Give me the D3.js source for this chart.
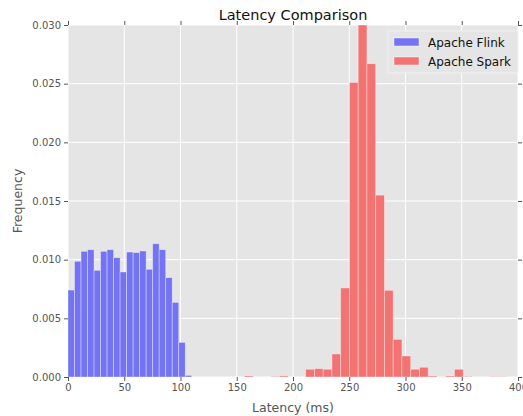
<!DOCTYPE html>
<html>
<head>
<meta charset="utf-8">
<script src="https://cdn.jsdelivr.net/npm/d3@7"></script>
<style>
  body { margin: 0; background: #fff; }
  text { font-family: "DejaVu Sans", sans-serif; }
</style>
</head>
<body>
<svg id="chart"></svg>
<script>
// Histogram data (frequency per bin)
const flinkStart = 0;
const flinkBinWidth = 110 / 19;
const flinkValues = [0.00741, 0.00986, 0.01071, 0.01085, 0.00909, 0.01071, 0.01085, 0.01017,
  0.00895, 0.01065, 0.01060, 0.01074, 0.00918, 0.01136, 0.01085, 0.00847, 0.00636, 0.00295, 0.00014];

const sparkStart = 156.8;
const sparkBinWidth = 7.78;
const sparkValues = [0.0001, 0, 0, 0.00005, 0.0001, 0, 0, 0.00066, 0.00071, 0.00066,
  0.00196, 0.00759, 0.0251, 0.0300, 0.0267, 0.0155, 0.00739, 0.00321, 0.00179, 0.00066,
  0.00083, 0.00009, 0, 0.00009, 0.00066, 0.00005, 0, 0, 0.00003, 0.00003];

const xTicks = [0, 50, 100, 150, 200, 250, 300, 350, 400];
const yTicks = [0, 0.005, 0.010, 0.015, 0.020, 0.025, 0.030];
const seriesNames = ["Apache Flink", "Apache Spark"];
const colors = ["#7373f3", "#f37373"];

const svgWidth = 523;
const svgHeight = 416;
const margin = { top: 25, right: 5, bottom: 39, left: 68 };
const width = svgWidth - margin.left - margin.right;
const height = svgHeight - margin.top - margin.bottom;

const svg = d3.select("#chart").attr("width", svgWidth).attr("height", svgHeight);
const g = svg.append("g").attr("transform", `translate(${margin.left},${margin.top})`);

const xScale = d3.scaleLinear().domain([0, 400]).range([0, width]);
const yScale = d3.scaleLinear().domain([0, 0.030]).range([height, 0]);

// background + grid
g.append("rect").attr("width", width).attr("height", height).attr("fill", "#e5e5e5");
g.selectAll(".vgrid").data(xTicks).enter().append("line")
  .attr("x1", d => xScale(d)).attr("x2", d => xScale(d))
  .attr("y1", 0).attr("y2", height)
  .attr("stroke", "#fff").attr("stroke-width", 1);
g.selectAll(".hgrid").data(yTicks).enter().append("line")
  .attr("x1", 0).attr("x2", width)
  .attr("y1", d => yScale(d)).attr("y2", d => yScale(d))
  .attr("stroke", "#fff").attr("stroke-width", 1);

g.append("defs").append("clipPath").attr("id", "clip")
  .append("rect").attr("width", width).attr("height", height);

const bars = g.append("g").attr("clip-path", "url(#clip)");

const drawHist = (values, start, binWidth, fill, cls) => {
  bars.selectAll("." + cls).data(values).enter()
    .append("rect")
    .attr("class", cls)
    .attr("x", (d, i) => xScale(start + i * binWidth))
    .attr("width", (d, i) => xScale(start + (i + 1) * binWidth) - xScale(start + i * binWidth))
    .attr("y", d => yScale(d))
    .attr("height", d => height - yScale(d))
    .attr("fill", fill)
    .attr("stroke", "rgba(255,255,255,0.45)")
    .attr("stroke-width", 0.8);
};
drawHist(flinkValues, flinkStart, flinkBinWidth, colors[0], "flink");
drawHist(sparkValues, sparkStart, sparkBinWidth, colors[1], "spark");

// axes
const tickColor = "#555";
const xAxis = g.append("g").attr("transform", `translate(0,${height})`)
  .call(d3.axisBottom(xScale).tickValues(xTicks).tickSize(4).tickPadding(3).tickFormat(d3.format("d")));
const xTop = g.append("g").call(d3.axisTop(xScale).tickValues(xTicks).tickSize(4).tickFormat(""));
const yAxis = g.append("g")
  .call(d3.axisLeft(yScale).tickValues(yTicks).tickSize(4).tickPadding(3).tickFormat(d3.format(".3f")));
const yRight = g.append("g").attr("transform", `translate(${width},0)`)
  .call(d3.axisRight(yScale).tickValues(yTicks).tickSize(4).tickFormat(""));
[xAxis, xTop, yAxis, yRight].forEach(a => {
  a.select(".domain").remove();
  a.selectAll(".tick line").attr("stroke", tickColor);
  a.selectAll("text").attr("fill", tickColor).style("font-size", "10px")
    .style("font-family", "'DejaVu Sans', sans-serif");
});

// title and labels
svg.append("text").attr("x", margin.left + width / 2).attr("y", 20)
  .attr("text-anchor", "middle").attr("fill", "#111").style("font-size", "14.5px")
  .text("Latency Comparison");
svg.append("text").attr("x", margin.left + width / 2).attr("y", 412)
  .attr("text-anchor", "middle").attr("fill", tickColor).style("font-size", "12.5px")
  .text("Latency (ms)");
svg.append("text").attr("transform", `translate(22,${margin.top + height / 2}) rotate(-90)`)
  .attr("text-anchor", "middle").attr("fill", tickColor).style("font-size", "12.5px")
  .text("Frequency");

// legend
const legend = svg.append("g").attr("transform", "translate(388,31)");
legend.append("rect").attr("width", 130).attr("height", 42)
  .attr("fill", "#e5e5e5").attr("stroke", "#f2f2f2").attr("stroke-width", 1);
seriesNames.forEach((name, i) => {
  legend.append("rect").attr("x", 6).attr("y", 7 + i * 19).attr("width", 25).attr("height", 8)
    .attr("fill", colors[i]).attr("stroke", "rgba(255,255,255,0.45)");
  legend.append("text").attr("x", 40).attr("y", 15.5 + i * 19)
    .attr("fill", "#111").style("font-size", "12px").text(name);
});
</script>
</body>
</html>
